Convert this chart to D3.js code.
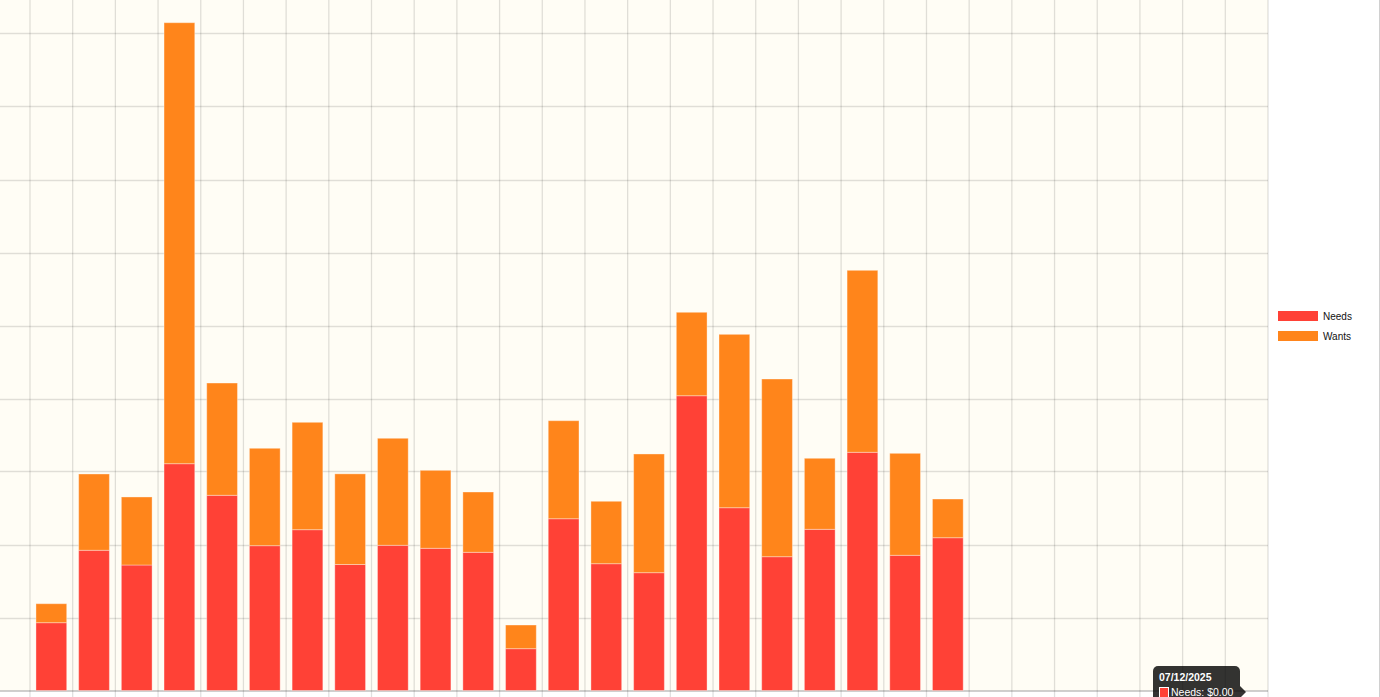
<!DOCTYPE html>
<html>
<head>
<meta charset="utf-8">
<script src="https://cdn.jsdelivr.net/npm/d3@7"></script>
<style>
  html, body { margin: 0; padding: 0; background: #ffffff; overflow: hidden; }
  svg { display: block; }
</style>
</head>
<body>
<svg id="chart" width="1380" height="697"></svg>
<script>
// ---- data ----
const dates = [
  "08/11/2025","09/11/2025","10/11/2025","11/11/2025","12/11/2025","13/11/2025","14/11/2025","15/11/2025",
  "16/11/2025","17/11/2025","18/11/2025","19/11/2025","20/11/2025","21/11/2025","22/11/2025","23/11/2025",
  "24/11/2025","25/11/2025","26/11/2025","27/11/2025","28/11/2025","29/11/2025","30/11/2025",
  "01/12/2025","02/12/2025","03/12/2025","04/12/2025","05/12/2025","06/12/2025","07/12/2025"
];
const needs = [0, 92.9, 192.1, 171.9, 310.7, 267.4, 198.4, 220.3, 172.6, 198.9, 194.8, 189.3, 57.3, 235.3,
  173.7, 161.4, 403.8, 250.4, 183.3, 220.8, 326.3, 185.2, 209.3, 0, 0, 0, 0, 0, 0, 0];
const wants = [0, 26.0, 104.5, 93.2, 604.1, 153.8, 133.4, 147.1, 124.2, 146.6, 106.8, 82.6, 32.4, 134.3,
  85.5, 162.6, 114.3, 237.5, 243.4, 97.3, 249.3, 139.7, 53.0, 0, 0, 0, 0, 0, 0, 0];
const seriesNames = ["Needs", "Wants"];
const seriesColors = ["#FF4136", "#FF851B"];
const yTicks = [0, 100, 200, 300, 400, 500, 600, 700, 800, 900, 1000];
const tooltipDate = "07/12/2025";
const tooltipLabel = "Needs: $0.00";

// ---- layout ----
const svg = d3.select("#chart");
const plotRight = 1268;
const slotW = 42.69;
const x = d3.scaleBand().domain(dates).range([plotRight - slotW * dates.length, plotRight]).padding(0);
const y = d3.scaleLinear().domain([0, 1000]).range([690.5, -39.5]);
const plotLeft = 0, plotBottom = y(0);

// plot background
svg.append("rect").attr("x", plotLeft).attr("y", 0).attr("width", plotRight - plotLeft).attr("height", plotBottom)
  .attr("fill", "#fffdf5");

// horizontal grid
svg.append("g").selectAll("line").data(yTicks.slice(1)).join("line")
  .attr("x1", plotLeft).attr("x2", plotRight)
  .attr("y1", d => Math.round(y(d)) + 0.5).attr("y2", d => Math.round(y(d)) + 0.5)
  .attr("stroke", "rgba(0,0,0,0.12)").attr("stroke-width", 1.3);

// vertical grid (band boundaries incl. right edge)
const bounds = dates.map(d => x(d)).concat([plotRight]);
svg.append("g").selectAll("line").data(bounds).join("line")
  .attr("x1", d => d).attr("x2", d => d)
  .attr("y1", 0).attr("y2", 697)
  .attr("stroke", "rgba(0,0,0,0.12)").attr("stroke-width", 1.3);

// x axis line
svg.append("line").attr("x1", plotLeft).attr("x2", plotRight)
  .attr("y1", plotBottom + 0.5).attr("y2", plotBottom + 0.5)
  .attr("stroke", "rgba(0,0,0,0.25)").attr("stroke-width", 1.3);

// stacked bars
const table = dates.map((d, i) => ({ date: d, Needs: needs[i], Wants: wants[i] }));
const stack = d3.stack().keys(seriesNames)(table);
const barW = x.bandwidth() * 0.72;
svg.append("g").selectAll("g").data(stack).join("g")
  .attr("fill", (s, i) => seriesColors[i])
  .selectAll("rect").data(s => s.filter(p => p[1] - p[0] > 0)).join("rect")
  .attr("x", p => x(p.data.date) + (x.bandwidth() - barW) / 2)
  .attr("width", barW)
  .attr("y", p => y(p[1]))
  .attr("height", p => y(p[0]) - y(p[1]))
  .attr("stroke", "rgba(255,255,255,0.35)").attr("stroke-width", 1);

// legend
const legend = svg.append("g").attr("transform", "translate(1278,311)");
seriesNames.forEach((name, i) => {
  const g = legend.append("g").attr("transform", `translate(0,${i * 20})`);
  g.append("rect").attr("width", 40).attr("height", 10).attr("fill", seriesColors[i]);
  g.append("text").attr("x", 45).attr("y", 8.5).text(name)
    .attr("font-family", "Liberation Sans, Arial, sans-serif").attr("font-size", 10).attr("fill", "#111");
});

// right container border
svg.append("line").attr("x1", 1379.5).attr("x2", 1379.5).attr("y1", 0).attr("y2", 697)
  .attr("stroke", "#d0d0d0").attr("stroke-width", 1);

// tooltip
const tipX = 1153, tipY = 666, tipW = 87, tipH = 50;
const tip = svg.append("g");
tip.append("rect").attr("x", tipX).attr("y", tipY).attr("width", tipW).attr("height", tipH).attr("rx", 5)
  .attr("fill", "rgba(0,0,0,0.8)");
const cy = 692;
tip.append("path").attr("d", `M${tipX + tipW},${cy - 6} L${tipX + tipW + 6},${cy} L${tipX + tipW},${cy + 6} Z`)
  .attr("fill", "rgba(0,0,0,0.8)");
tip.append("text").attr("x", 1159).attr("y", 680.5).text(tooltipDate)
  .attr("font-family", "Liberation Sans, Arial, sans-serif").attr("font-size", 10.5).attr("font-weight", "bold")
  .attr("fill", "#fff");
tip.append("rect").attr("x", 1159.5).attr("y", 687.5).attr("width", 9).attr("height", 10)
  .attr("fill", seriesColors[0]).attr("stroke", "#fff").attr("stroke-width", 1);
tip.append("text").attr("x", 1171).attr("y", 696).text(tooltipLabel)
  .attr("font-family", "Liberation Sans, Arial, sans-serif").attr("font-size", 10.5).attr("fill", "#fff");
</script>
</body>
</html>
